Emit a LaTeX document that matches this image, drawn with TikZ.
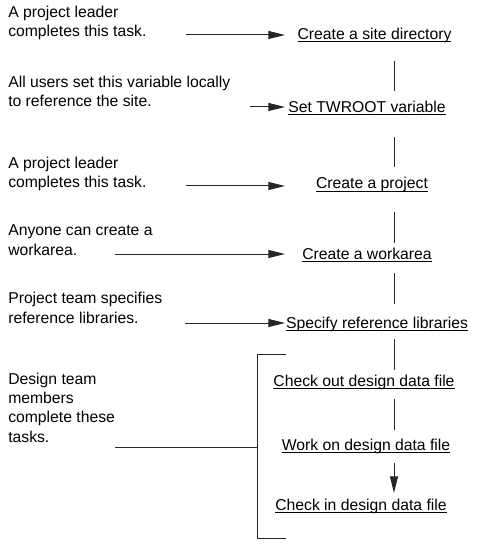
\documentclass[tikz,border=0pt]{standalone}
\usepackage{fontspec}
\setmainfont{Liberation Sans}
\usetikzlibrary{arrows.meta}
\newcommand{\tasktext}[1]{\setbox0\hbox{#1}\rlap{\rule[-2pt]{\wd0}{0.7pt}}\box0}

\begin{document}
\begin{tikzpicture}[x=0.75pt, y=-0.75pt, >={Triangle[length=12.5pt,width=6pt]},
  note/.style={anchor=base west, inner sep=0pt, align=left, font=\fontsize{11.8}{14.5}\selectfont},
  task/.style={anchor=base, inner sep=0pt, font=\fontsize{11.8}{14.5}\selectfont},
  link/.style={line width=0.75pt, draw=black!85},
  feed/.style={link, ->}]
\useasboundingbox (0,0) rectangle (483,552);

% who does what (placed by the baseline of the last line)
\node[note] (who1) at (8,36.5)  {A project leader\\completes this task.};
\node[note] (who2) at (8,106.5) {All users set this variable locally\\to reference the site.};
\node[note] (who3) at (8,188)   {A project leader\\completes this task.};
\node[note] (who4) at (8,255)   {Anyone can create a\\workarea.};
\node[note] (who5) at (8,323)   {Project team specifies\\reference libraries.};
\node[note] (who6) at (8,442)   {Design team\\members\\complete these\\tasks.};

% the tasks
\node[task] (t1) at (374.5,39.5) {\tasktext{Create a site directory}};
\node[task] (t2) at (367,112.5)  {\tasktext{Set TWROOT variable}};
\node[task] (t3) at (372,189)    {\tasktext{Create a project}};
\node[task] (t4) at (367,259)    {\tasktext{Create a workarea}};
\node[task] (t5) at (377,328)    {\tasktext{Specify reference libraries}};
\node[task] (t6) at (364,386)    {\tasktext{Check out design data file}};
\node[task] (t7) at (366,450)    {\tasktext{Work on design data file}};
\node[task] (t8) at (361,510)    {\tasktext{Check in design data file}};

\coordinate (spine) at (394,0);
\coordinate (tip) at (285,0);
\coordinate (f1) at (186,35);
\coordinate (f2) at (250,107);
\coordinate (f3) at (186,186);
\coordinate (f4) at (115,254);
\coordinate (f5) at (185,323);
\coordinate (brtop) at (286,354);
\coordinate (brbot) at (286,538);
\coordinate (brx) at (257,0);
\coordinate (f6) at (115,447.5);

\foreach \i in {1,...,5}
  \draw[feed] (f\i) -- (f\i -| tip);

\foreach \a/\b/\p/\q in {t1/t2/16.1/16.1, t2/t3/18.4/16.5, t3/t4/17.3/12,
                         t4/t5/10.5/18, t5/t6/8.3/12, t6/t7/9.8/15}
  \draw[link] ([yshift=-\p pt]\a.base -| spine) -- ([yshift=\q pt]\b.base -| spine);
\draw[feed] ([yshift=-9.8pt]t7.base -| spine) -- ([yshift=12.8pt]t8.base -| spine);

% bracket round the design tasks
\draw[link] (brtop) -- (brtop -| brx) -- (brbot -| brx) -- (brbot);
\draw[link] (f6) -- (f6 -| brx);
\end{tikzpicture}
\end{document}
